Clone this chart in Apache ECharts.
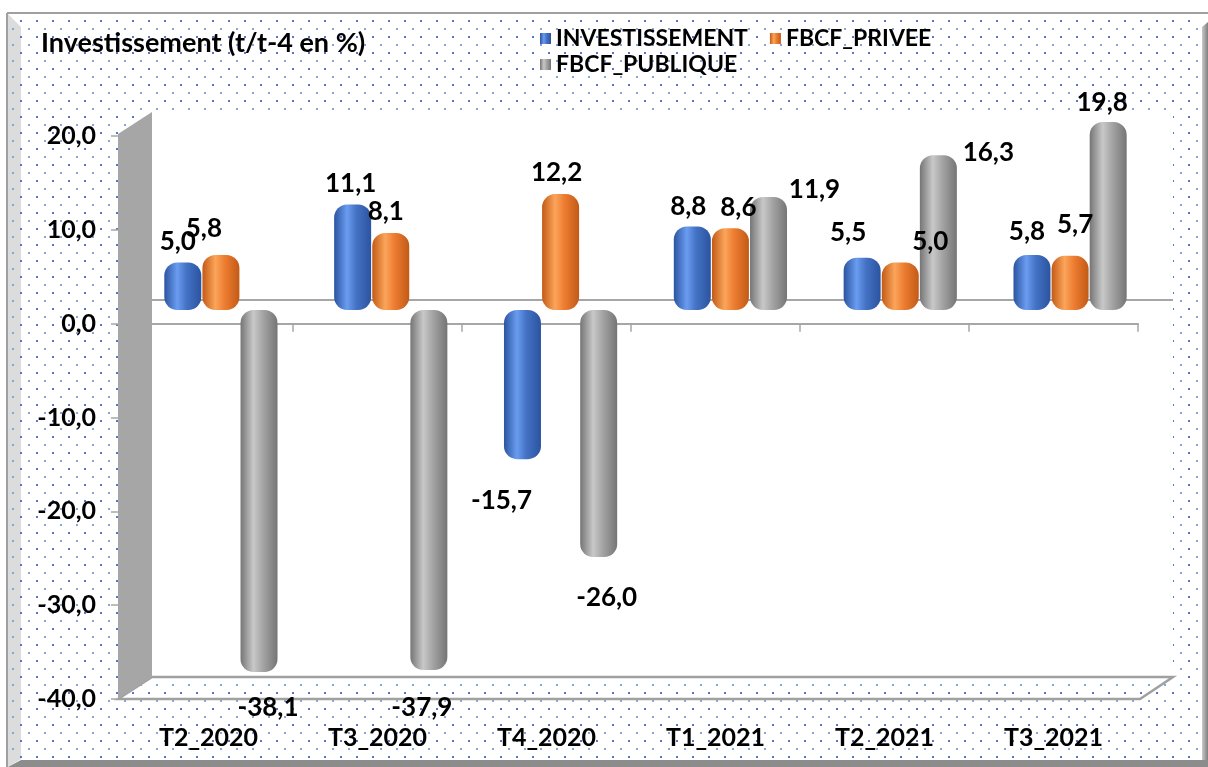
<!DOCTYPE html>
<html>
<head>
<meta charset="utf-8">
<title>Investissement (t/t-4 en %)</title>
<script src="https://cdn.jsdelivr.net/npm/echarts@6/dist/echarts.min.js"></script>
<style>
  html, body { margin: 0; padding: 0; background: #fff; }
  #chart { width: 1208px; height: 767px; }
</style>
</head>
<body>
<div id="chart"></div>
<script>
// data
const categories = ['T2_2020', 'T3_2020', 'T4_2020', 'T1_2021', 'T2_2021', 'T3_2021'];
const investissement = [5.0, 11.1, -15.7, 8.8, 5.5, 5.8];
const fbcfPrivee = [5.8, 8.1, 12.2, 8.6, 5.0, 5.7];
const fbcfPublique = [-38.1, -37.9, -26.0, 11.9, 16.3, 19.8];
const yMin = -40;
const yMax = 20;
const yStep = 10;

// label nudges (Excel put the labels a bit everywhere)
const nudges = {
  inv: [[-5, 0], [-2, 0], [-21, 20], [-4, 1], [-14, -4], [-5, -2]],
  pri: [[-17, -5], [-5, 0], [-4, 0], [8, 0], [30, 0], [5, -10]],
  pub: [[9, 15], [-7, 17], [8, 20], [46, 14], [50, 18], [-6, 2]]
};

const FONT = 'Lato';
const fmt = v => v.toFixed(1).replace('.', ',');

// dotted background tile
const tile = document.createElement('canvas');
tile.width = 16; tile.height = 16;
const tc = tile.getContext('2d');
tc.fillStyle = '#4a7bd6';
tc.fillRect(4, 4, 2, 2);
tc.fillStyle = '#86a6e3';
tc.fillRect(12, 12, 2, 2);

const cyl = (edge, mid, hi) => ({
  type: 'linear', x: 0, y: 0, x2: 1, y2: 0,
  colorStops: [
    { offset: 0, color: edge },
    { offset: 0.35, color: hi },
    { offset: 0.6, color: mid },
    { offset: 1, color: edge }
  ]
});

const makeBar = (name, values, nudge, color) => ({
  name: name,
  type: 'bar',
  xAxisIndex: 2,
  yAxisIndex: 2,
  z: 10,
  barWidth: 37,
  barGap: '3%',
  itemStyle: { color: color, borderRadius: 13 },
  data: values.map((v, i) => ({
    value: v,
    label: { position: v >= 0 ? 'top' : 'bottom', offset: nudge[i] }
  })),
  label: {
    show: true,
    distance: 8,
    color: '#000',
    fontFamily: FONT,
    fontWeight: 'bold',
    fontSize: 26,
    formatter: p => fmt(p.value)
  }
});

const chart = echarts.init(document.getElementById('chart'));

const option = {
  backgroundColor: '#fff',
  animation: false,
  title: {
    text: 'Investissement (t/t-4 en %)',
    left: 36,
    top: 25,
    textStyle: { fontFamily: FONT, fontWeight: 'bold', fontSize: 27, color: '#000' }
  },
  legend: [
    {
      data: ['INVESTISSEMENT', 'FBCF_PRIVEE'],
      left: 535,
      top: 22,
      itemWidth: 11,
      itemHeight: 11,
      itemGap: 22,
      icon: 'rect',
      textStyle: { fontFamily: FONT, fontWeight: 'bold', fontSize: 23, color: '#000' }
    },
    {
      data: ['FBCF_PUBLIQUE'],
      left: 535,
      top: 48,
      itemWidth: 11,
      itemHeight: 11,
      icon: 'rect',
      textStyle: { fontFamily: FONT, fontWeight: 'bold', fontSize: 23, color: '#000' }
    }
  ],
  grid: [
    { left: 124, right: 70, top: 136, bottom: 68 },
    { left: 124, right: 70, top: 136, bottom: 68 },
    { left: 136, right: 53, top: 120, bottom: 77 }
  ],
  xAxis: [
    {
      gridIndex: 0, type: 'category', data: categories, z: 5,
      axisLine: { onZero: true, lineStyle: { color: '#a6a6a6', width: 2 } },
      axisTick: { show: true, length: 8, lineStyle: { color: '#a6a6a6', width: 1.5 } },
      axisLabel: { show: false }
    },
    {
      gridIndex: 1, type: 'category', data: categories, z: 5, position: 'bottom',
      axisLine: { show: false, onZero: false },
      axisTick: { show: false },
      axisLabel: { margin: 26, color: '#000', fontFamily: FONT, fontWeight: 'bold', fontSize: 25 }
    },
    { gridIndex: 2, type: 'category', data: categories, show: false }
  ],
  yAxis: [
    {
      gridIndex: 0, type: 'value', min: yMin, max: yMax, interval: yStep, z: 5,
      offset: 6,
      axisLine: { show: false },
      axisTick: { show: true, length: 7, lineStyle: { color: '#a6a6a6', width: 1.5 } },
      splitLine: { show: false },
      axisLabel: {
        margin: 22, color: '#000', fontFamily: FONT, fontWeight: 'bold', fontSize: 25,
        formatter: v => fmt(v)
      }
    },
    { gridIndex: 1, type: 'value', min: yMin, max: yMax, show: false, splitLine: { show: false } },
    { gridIndex: 2, type: 'value', min: yMin, max: yMax, show: false, splitLine: { show: false } }
  ],
  graphic: [
    // frame bevels
    { type: 'polygon', z: 0, shape: { points: [[8, 14], [21, 27], [21, 759], [8, 767]] }, style: { fill: '#dcdcdc' } },
    { type: 'polygon', z: 0, shape: { points: [[8, 767], [21, 760], [1208, 760], [1208, 767]] }, style: { fill: '#8c8c8c' } },
    {
      type: 'polygon', z: 0, shape: { points: [[1202, 27], [1208, 22], [1208, 760], [1202, 760]] },
      style: { fill: { type: 'linear', x: 0, y: 0, x2: 1, y2: 0, colorStops: [{ offset: 0, color: '#c9c9c9' }, { offset: 1, color: '#7f7f7f' }] } }
    },
    { type: 'line', z: 0, shape: { x1: 7, y1: 13, x2: 1208, y2: 13 }, style: { stroke: '#a0a0a0', lineWidth: 2 } },
    { type: 'line', z: 0, shape: { x1: 7, y1: 13, x2: 7, y2: 767 }, style: { stroke: '#a0a0a0', lineWidth: 2 } },
    // dotted fill
    { type: 'rect', z: 1, shape: { x: 8, y: 14, width: 1195, height: 746 }, style: { fill: { image: tile, repeat: 'repeat' } } },
    // back wall (white)
    { type: 'rect', z: 2, shape: { x: 152, y: 112, width: 1021, height: 565 }, style: { fill: '#fff' } },
    // back zero line
    { type: 'line', z: 3, shape: { x1: 152, y1: 300, x2: 1173, y2: 300 }, style: { stroke: '#a6a6a6', lineWidth: 2 } },
    // floor
    {
      type: 'polygon', z: 3, shape: { points: [[118, 699], [152, 677], [1173, 677], [1140, 699]] },
      style: { fill: 'rgba(0,0,0,0)', stroke: '#a0a0a0', lineWidth: 2.5 }
    },
    // side wall
    { type: 'polygon', z: 4, shape: { points: [[118, 134], [152, 112], [152, 677], [118, 699]] }, style: { fill: '#a6a6a6' } }
  ],
  series: [
    makeBar('INVESTISSEMENT', investissement, nudges.inv, cyl('#2b54a0', '#4472c4', '#6a9cf0')),
    makeBar('FBCF_PRIVEE', fbcfPrivee, nudges.pri, cyl('#c25a16', '#ed7d31', '#fba55a')),
    makeBar('FBCF_PUBLIQUE', fbcfPublique, nudges.pub, cyl('#757575', '#a5a5a5', '#c8c8c8'))
  ]
};

chart.setOption(option);
</script>
</body>
</html>
